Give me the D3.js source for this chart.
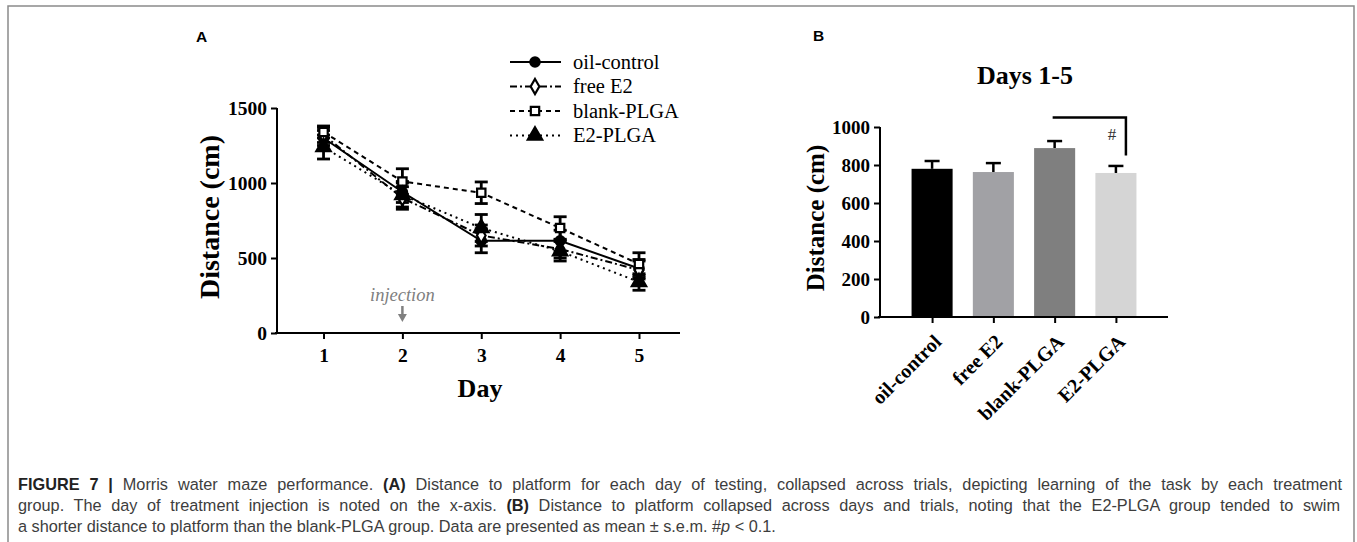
<!DOCTYPE html>
<html><head><meta charset="utf-8">
<script src="https://cdn.jsdelivr.net/npm/d3@7"></script>
<style>
html,body{margin:0;padding:0;background:#fff;}
svg{display:block;}
</style></head>
<body>
<svg id="fig" width="1357" height="542"></svg>
<script>
// ---------- DATA ----------
const days = [1, 2, 3, 4, 5];
const dayTicks = [1, 2, 3, 4, 5];
const distTicksA = [0, 500, 1000, 1500];

const oilControl    = [1300, 940, 615, 615, 430];
const oilControlSem = [50, 70, 80, 70, 60];
const freeE2        = [1320, 900, 650, 560, 420];
const freeE2Sem     = [50, 75, 70, 60, 60];
const blankPLGA     = [1340, 1010, 935, 700, 460];
const blankPLGASem  = [40, 85, 72, 75, 75];
const e2PLGA        = [1240, 920, 700, 545, 340];
const e2PLGASem     = [80, 80, 90, 65, 55];

const seriesNames = ["oil-control", "free E2", "blank-PLGA", "E2-PLGA"];

const groupsB = ["oil-control", "free E2", "blank-PLGA", "E2-PLGA"];
const meansB  = [780, 763, 889, 758];
const semsB   = [41, 47, 37, 37];
const distTicksB = [0, 200, 400, 600, 800, 1000];
const bracketB = {from: "blank-PLGA", to: "E2-PLGA", top: 1050, bottom: 850, label: "#"};

// ---------- STYLES ----------
const serif = "'Liberation Serif','Times New Roman',serif";
const sans = "'Liberation Sans',Arial,Helvetica,sans-serif";
const styles = [
  {dash: null, marker: "circle", fill: "#000"},
  {dash: "7,3,2,3", marker: "diamond", fill: "#fff"},
  {dash: "5,4", marker: "square", fill: "#fff"},
  {dash: "2,4", marker: "triangle", fill: "#000"}
];
const barColors = ["#000000", "#a1a1a5", "#7f7f7f", "#d5d5d5"];

const svg = d3.select("#fig");

// frame
svg.append("rect").attr("x", 8).attr("y", 6).attr("width", 1346).attr("height", 545)
  .attr("fill", "none").attr("stroke", "#8a8a8a").attr("stroke-width", 1.5);

// ---------- PANEL A ----------
const xA = d3.scaleLinear().domain([0.41, 5.52]).range([277, 680]);
const yA = d3.scaleLinear().domain([0, 1500]).range([333, 108]);

const gA = svg.append("g");
svg.append("text").attr("x", 196).attr("y", 42).text("A")
  .attr("font-family", sans).attr("font-weight", "bold").attr("font-size", 15.5);

const axAy = gA.append("g").attr("transform", `translate(${xA.range()[0]},0)`)
  .call(d3.axisLeft(yA).tickValues(distTicksA).tickSize(6).tickPadding(4).tickFormat(d3.format("d")));
const axAx = gA.append("g").attr("transform", `translate(0,${yA(0)})`)
  .call(d3.axisBottom(xA).tickValues(dayTicks).tickSize(6).tickPadding(9).tickFormat(d3.format("d")));
[axAy, axAx].forEach(a => {
  a.selectAll("path,line").attr("stroke", "#000").attr("stroke-width", 2);
  a.select(".domain").attr("d", a === axAy ? `M0,${yA(0)}V${yA(1500)}` : `M${xA.range()[0]-2},0H${xA.range()[1]}`);
  a.selectAll("text").attr("font-family", serif).attr("font-weight", "bold").attr("font-size", 19.5).attr("fill", "#000");
});

gA.append("text").attr("transform", `translate(219,${217}) rotate(-90)`)
  .attr("text-anchor", "middle").attr("font-family", serif).attr("font-weight", "bold")
  .attr("font-size", 28).text("Distance (cm)");
gA.append("text").attr("x", 480).attr("y", 397).attr("text-anchor", "middle")
  .attr("font-family", serif).attr("font-weight", "bold").attr("font-size", 26).text("Day");

// injection annotation
gA.append("text").attr("x", xA(2)).attr("y", 301).attr("text-anchor", "middle")
  .attr("font-family", serif).attr("font-style", "italic").attr("font-size", 18.5)
  .attr("fill", "#7f7f7f").text("injection");
gA.append("line").attr("x1", xA(2)).attr("x2", xA(2)).attr("y1", 306).attr("y2", 316)
  .attr("stroke", "#808080").attr("stroke-width", 2.5);
gA.append("path").attr("d", `M${xA(2)-4.5},314L${xA(2)+4.5},314L${xA(2)},322Z`).attr("fill", "#808080");

const seriesVals = [oilControl, freeE2, blankPLGA, e2PLGA];
const seriesSems = [oilControlSem, freeE2Sem, blankPLGASem, e2PLGASem];

function markerPath(type) {
  const s = {circle: d3.symbolCircle, diamond: d3.symbolDiamond, square: d3.symbolSquare, triangle: d3.symbolTriangle}[type];
  const size = {circle: 70, diamond: 65, square: 70, triangle: 90}[type];
  return d3.symbol().type(s).size(size)();
}

const line = d3.line().x((d, i) => xA(days[i])).y(d => yA(d));
seriesVals.forEach((vals, k) => {
  gA.append("path").attr("d", line(vals)).attr("fill", "none").attr("stroke", "#000")
    .attr("stroke-width", 2).attr("stroke-dasharray", styles[k].dash);
});
// error bars
seriesVals.forEach((vals, k) => {
  const sem = seriesSems[k];
  const eg = gA.append("g").attr("stroke", "#000").attr("stroke-width", 2.8);
  vals.forEach((v, i) => {
    const x = xA(days[i]);
    eg.append("line").attr("x1", x).attr("x2", x).attr("y1", yA(v - sem[i])).attr("y2", yA(v + sem[i]));
    [v - sem[i], v + sem[i]].forEach(e => eg.append("line").attr("x1", x - 6.5).attr("x2", x + 6.5).attr("y1", yA(e)).attr("y2", yA(e)));
  });
});
// markers
seriesVals.forEach((vals, k) => {
  vals.forEach((v, i) => {
    gA.append("path").attr("d", markerPath(styles[k].marker))
      .attr("transform", `translate(${xA(days[i])},${yA(v)})`)
      .attr("fill", styles[k].fill).attr("stroke", "#000").attr("stroke-width", 2.2);
  });
});

// legend
const leg = gA.append("g");
seriesNames.forEach((name, k) => {
  const y = 62 + k * 24.5;
  leg.append("line").attr("x1", 510).attr("x2", 561).attr("y1", y).attr("y2", y)
    .attr("stroke", "#000").attr("stroke-width", 2.2).attr("stroke-dasharray", styles[k].dash);
  leg.append("path").attr("d", markerPath(styles[k].marker)).attr("transform", `translate(535,${y})`)
    .attr("fill", styles[k].fill).attr("stroke", "#000").attr("stroke-width", 2.2);
  leg.append("text").attr("x", 573).attr("y", y + 6.5).attr("font-family", serif)
    .attr("font-size", 20.5).text(name);
});

// ---------- PANEL B ----------
const xB = d3.scalePoint().domain(groupsB).range([880, 1168]).padding(0.85);
const yB = d3.scaleLinear().domain([0, 1000]).range([317, 127]);
const barW = xB.step() * 0.67;
const gB = svg.append("g");
svg.append("text").attr("x", 813).attr("y", 41).text("B")
  .attr("font-family", sans).attr("font-weight", "bold").attr("font-size", 15.5);

gB.append("text").attr("x", 1025).attr("y", 84).attr("text-anchor", "middle")
  .attr("font-family", serif).attr("font-weight", "bold").attr("font-size", 26).text("Days 1-5");

// error bars (upper)
groupsB.forEach((g, i) => {
  const x = xB(g);
  gB.append("line").attr("x1", x).attr("x2", x).attr("y1", yB(meansB[i])).attr("y2", yB(meansB[i] + semsB[i]))
    .attr("stroke", "#000").attr("stroke-width", 2.5);
  gB.append("line").attr("x1", x - 7.5).attr("x2", x + 7.5).attr("y1", yB(meansB[i] + semsB[i])).attr("y2", yB(meansB[i] + semsB[i]))
    .attr("stroke", "#000").attr("stroke-width", 2.5);
});
gB.selectAll("rect.bar").data(groupsB).join("rect").attr("class", "bar")
  .attr("x", d => xB(d) - barW / 2).attr("width", barW)
  .attr("y", (d, i) => yB(meansB[i])).attr("height", (d, i) => yB(0) - yB(meansB[i]))
  .attr("fill", (d, i) => barColors[i]);

const axBy = gB.append("g").attr("transform", `translate(880,0)`)
  .call(d3.axisLeft(yB).tickValues(distTicksB).tickSize(6).tickPadding(4).tickFormat(d3.format("d")));
const axBx = gB.append("g").attr("transform", `translate(0,${yB(0)})`)
  .call(d3.axisBottom(xB).tickSize(6).tickPadding(4));
[axBy, axBx].forEach(a => {
  a.selectAll("path,line").attr("stroke", "#000").attr("stroke-width", 2);
  a.select(".domain").attr("d", a === axBy ? `M0,${yB(0)}V${yB(1000)}` : `M878,0H1168`);
  a.selectAll("text").attr("font-family", serif).attr("font-weight", "bold").attr("font-size", 19).attr("fill", "#000");
});
axBx.selectAll("text").attr("text-anchor", "end").attr("dy", null).attr("x", 0).attr("y", 0)
  .attr("font-size", 20).attr("transform", "translate(10,26) rotate(-45)");

gB.append("text").attr("transform", `translate(824,218) rotate(-90)`)
  .attr("text-anchor", "middle").attr("font-family", serif).attr("font-weight", "bold")
  .attr("font-size", 25).text("Distance (cm)");

// bracket
const bx1 = xB(bracketB.from) - 2, bx2 = xB(bracketB.to) + 10;
gB.append("path").attr("d", `M${bx1},${yB(bracketB.top)}H${bx2}V${yB(bracketB.bottom)}`)
  .attr("fill", "none").attr("stroke", "#000").attr("stroke-width", 2.5);
gB.append("text").attr("x", bx2 - 14).attr("y", yB(bracketB.top) + 22).attr("text-anchor", "middle")
  .attr("font-family", serif).attr("font-size", 17).attr("fill", "#333").text(bracketB.label);

// ---------- CAPTION ----------
const cap = svg.append("g").attr("font-family", sans).attr("font-size", 16.3).attr("fill", "#3d3d3d");
const capLines = [
  {y: 490, fit: 1324, parts: [["FIGURE 7 |", "b"], [" Morris water maze performance. ", ""], ["(A)", "b"], [" Distance to platform for each day of testing, collapsed across trials, depicting learning of the task by each treatment", ""]]},
  {y: 511, fit: 1322, parts: [["group. The day of treatment injection is noted on the x-axis. ", ""], ["(B)", "b"], [" Distance to platform collapsed across days and trials, noting that the E2-PLGA group tended to swim", ""]]},
  {y: 532, fit: null, parts: [["a shorter distance to platform than the blank-PLGA group. Data are presented as mean ± s.e.m. #", ""], ["p", "i"], [" < 0.1.", ""]]}
];
capLines.forEach(l => {
  const t = cap.append("text").attr("x", 18).attr("y", l.y).attr("xml:space", "preserve");
  let full = "";
  l.parts.forEach(([s, st]) => {
    full += s;
    const ts = t.append("tspan").text(s);
    if (st === "b") ts.attr("font-weight", "bold").attr("fill", "#222");
    if (st === "i") ts.attr("font-style", "italic");
  });
  if (l.fit) {
    const nat = t.node().getComputedTextLength();
    const spaces = (full.match(/ /g) || []).length;
    if (nat < l.fit) t.attr("word-spacing", (l.fit - nat) / spaces);
    else t.attr("textLength", l.fit).attr("lengthAdjust", "spacingAndGlyphs");
  }
});
</script>
</body></html>
